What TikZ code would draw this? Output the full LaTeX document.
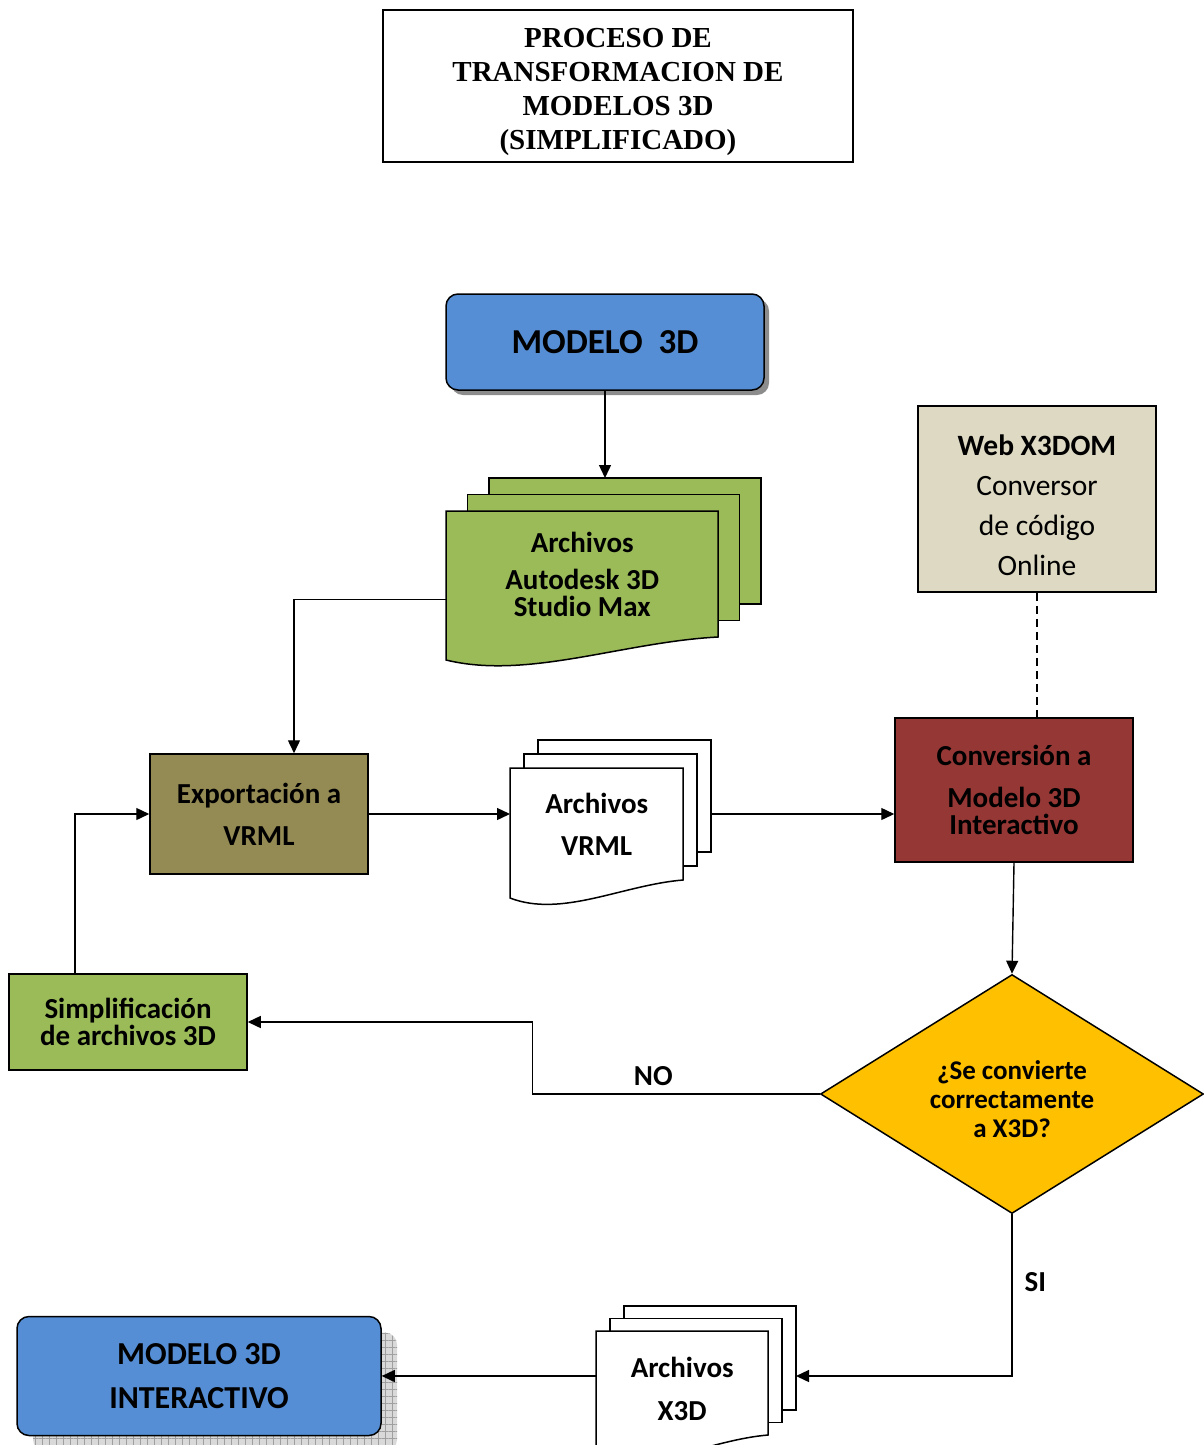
\documentclass[tikz,border=0pt]{standalone}
\usepackage{fontspec}
\setmainfont{Carlito}
\newfontfamily\serifa{Liberation Serif}
\usetikzlibrary{shapes.geometric,arrows.meta,positioning,calc,patterns.meta}

\definecolor{azul}{HTML}{558ED5}
\definecolor{verde}{HTML}{9BBB59}
\definecolor{oliva}{HTML}{948A54}
\definecolor{granate}{HTML}{953735}
\definecolor{arena}{HTML}{DDD9C3}
\definecolor{ambar}{HTML}{FFC000}

\newcommand{\letra}[2]{\fontsize{#1}{#2}\selectfont\bfseries}
% puntal invisible para bajar un poco el texto de un nodo
\newcommand{\alto}[1]{\rule{0pt}{#1}}

% pila de tres hojas, la de delante con el borde de abajo ondulado
% [#1 paso entre hojas] #2 nombre, #3 relleno, #4 esquina, #5 ancho,
% #6 alto a la derecha, #7 alto a la izquierda, #8 texto
\newcommand{\pila}[8][(14,-14)]{%
  \foreach \k in {2,1}
    \draw[hoja, fill=#3] ($#4+\k*#1$) rectangle ++(#5,#6);
  \draw[hoja, fill=#3] #4 -- ++(#5,0) -- ++(0,#6)
    .. controls ($#4+(0.65*#5,#6+5)$) and ($#4+(0.3*#5,#7+20)$) .. ($#4+(0,#7)$) -- cycle;
  \coordinate (#2-atras) at ($#4+2*#1+(#5,0)$);
  \node[anchor=north west, inner sep=0, minimum width=#5, minimum height=#6,
    align=center, font=\letra{29}{27}] (#2) at #4 {#8};
}

\begin{document}
\begin{tikzpicture}[x=1pt, y=-1pt,
  caja/.style={rectangle, draw, line width=1.5pt, align=center, inner sep=0, font=\letra{29}{27}},
  hoja/.style={draw, line width=1.5pt},
  sombra/.style={preaction={fill=black!45, transform canvas={xshift=5pt, yshift=-5pt}}},
  reticula/.style={preaction={fill=gray!30, transform canvas={xshift=16pt, yshift=-16pt}},
    preaction={pattern={Hatch[angle=0, distance=7pt, line width=0.6pt]}, pattern color=gray!75,
      transform canvas={xshift=16pt, yshift=-16pt}}},
  rombo/.style={diamond, aspect=1.6, draw, line width=1.5pt, inner sep=0, align=center, font=\letra{27}{29}},
  flecha/.style={-{Triangle[length=13pt, width=12pt]}, line width=1.4pt},
  rotulo/.style={font=\letra{29}{29}, inner sep=2pt}
]
\useasboundingbox (0,0) rectangle (1203,1445);

\node[draw, line width=1.5pt, minimum width=470, minimum height=152, align=center,
  font=\serifa\letra{29}{34}] (titulo) at (618,86)
  {\alto{32pt}PROCESO DE\\TRANSFORMACION DE\\MODELOS 3D\\(SIMPLIFICADO)};

\node[caja, sombra, fill=azul, rounded corners=12pt, minimum width=318, minimum height=96,
  font=\letra{35}{35}] (modelo) at (605,342) {MODELO\ \ 3D};

% pilas de archivos
\pila[(21.5,-16.5)]{autodesk}{verde}{(446,511)}{272}{126}{149}{Archivos\\[10pt]Autodesk 3D\\Studio Max}
\pila{vrml}{white}{(510,768)}{173}{112}{130}{Archivos\\[15pt]VRML}
\pila[(14,-12.5)]{x3d}{white}{(596,1331)}{172}{104}{124}{\alto{31pt}Archivos\\[16pt]X3D}

\node[caja, fill=oliva, minimum width=218, minimum height=120] (export) at (259,814)
  {Exportación a\\[15pt]VRML};
\node[caja, fill=arena, minimum width=238, minimum height=186,
  font=\fontsize{29.5}{40}\selectfont] (web) at (1037,499)
  {\alto{34pt}\textbf{Web X3DOM}\\Conversor\\de código\\Online};
\node[caja, fill=granate, minimum width=238, minimum height=144] (conversion) at (1014,790)
  {Conversión a\\[15pt]Modelo 3D\\Interactivo};
\node[rombo, fill=ambar, minimum width=383, minimum height=239] (decision) at (1012,1094)
  {\alto{29pt}¿Se convierte\\correctamente\\a X3D?};
\node[caja, fill=verde, minimum width=238, minimum height=96] (simpl) at (128,1022)
  {Simplificación\\de archivos 3D};
\node[caja, reticula, fill=azul, rounded corners=12pt, minimum width=364, minimum height=119,
  font=\letra{32}{44}] (final) at (199,1376) {MODELO 3D\\INTERACTIVO};

% conexiones
\draw[flecha] (modelo.south) -- (modelo.south |- autodesk-atras);
\draw[flecha] ([yshift=-25pt]autodesk.west) -| ([xshift=35pt]export.north);
\draw[flecha] (export.east) -- (export.east -| vrml.west);
\draw[flecha] (vrml-atras |- export.east) -- (export.east -| conversion.west);
\draw[line width=1.4pt, dash pattern=on 8pt off 5pt] (web.south) -- (web.south |- conversion.north);
\draw[flecha] (conversion.south) -- (decision.north);
\draw[flecha] (decision.west) -- node[rotulo, above=6pt, pos=0.58] {NO} ++(-287,0) |- (simpl.east);
\draw[flecha] ([xshift=-53pt]simpl.north) |- (export.west);
\draw[flecha] (decision.south) |- node[rotulo, right=10pt, pos=0.21] {SI} (x3d-atras |- final.east);
\draw[flecha] (final.east -| x3d.west) -- (final.east);
\end{tikzpicture}
\end{document}
